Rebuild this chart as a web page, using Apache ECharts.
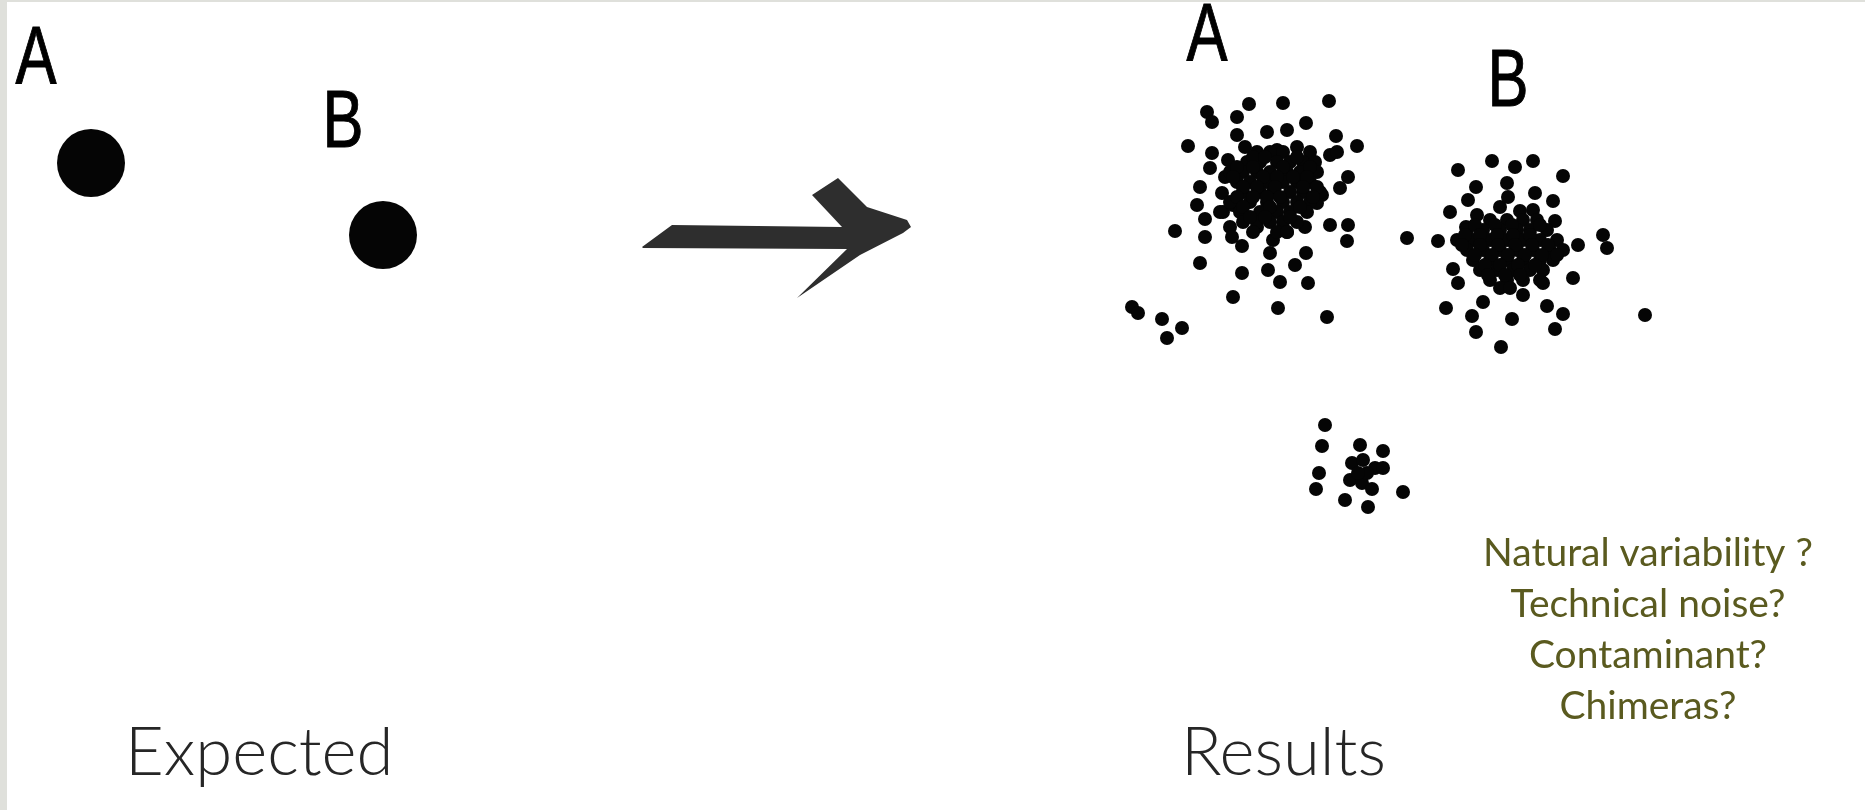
<!DOCTYPE html>
<html>
<head>
<meta charset="utf-8">
<script src="https://cdn.jsdelivr.net/npm/echarts@6/dist/echarts.min.js"></script>
<style>
  html, body { margin: 0; padding: 0; background: #fff; }
  #main { width: 1865px; height: 810px; }
</style>
</head>
<body>
<div id="main"></div>
<script>
const expectedDots = [[91, 163], [383, 235]];

const clusterA = [
  [1249, 104], [1283, 103], [1329, 101], [1207, 112], [1212, 122], [1237, 117], [1306, 123],
  [1267, 132], [1287, 130], [1237, 135], [1336, 136], [1188, 146], [1357, 146], [1245, 147],
  [1297, 147], [1212, 153], [1330, 155], [1337, 152], [1228, 160], [1210, 168], [1263, 157],
  [1277, 150], [1310, 163], [1348, 177], [1340, 188], [1225, 177], [1200, 187], [1222, 193],
  [1197, 205], [1205, 219], [1175, 231], [1205, 237], [1223, 212], [1233, 205], [1230, 227],
  [1232, 237], [1242, 246], [1257, 227], [1273, 240], [1270, 253], [1287, 232], [1305, 227],
  [1330, 225], [1348, 225], [1347, 241], [1306, 253], [1295, 265], [1200, 263], [1242, 273],
  [1268, 270], [1280, 282], [1308, 283], [1233, 297], [1278, 308], [1327, 317], [1322, 195],
  [1317, 203],
  // dense core
  [1257, 152], [1270, 152], [1283, 152], [1310, 152],
  [1247, 162], [1260, 162], [1277, 162], [1290, 162], [1303, 162], [1315, 162],
  [1230, 172], [1243, 172], [1257, 172], [1270, 172], [1287, 172], [1300, 172], [1317, 172],
  [1237, 182], [1250, 182], [1267, 182], [1283, 182], [1297, 182], [1310, 182],
  [1243, 192], [1260, 192], [1273, 192], [1290, 192], [1303, 192], [1320, 192],
  [1230, 202], [1250, 202], [1267, 202], [1283, 202], [1297, 202], [1310, 202],
  [1220, 212], [1240, 212], [1260, 212], [1277, 212], [1290, 212], [1307, 212],
  [1243, 222], [1257, 222], [1270, 222], [1283, 222], [1297, 222],
  [1253, 232], [1277, 232], [1287, 232],
  [1253, 157], [1265, 157], [1297, 157],
  [1237, 167], [1253, 167], [1283, 167], [1310, 167],
  [1233, 177], [1263, 177], [1277, 177], [1293, 177], [1307, 177],
  [1243, 187], [1257, 187], [1275, 187], [1303, 187], [1317, 187],
  [1237, 197], [1253, 197], [1267, 197], [1280, 197], [1313, 197],
  [1243, 207], [1270, 207], [1300, 207],
  [1250, 217], [1265, 217], [1290, 217]
];

const strayDots = [[1132, 307], [1138, 313], [1162, 319], [1182, 328], [1167, 338]];

const clusterB = [
  [1458, 170], [1492, 161], [1515, 167], [1533, 161], [1563, 176], [1476, 187], [1507, 183],
  [1468, 200], [1535, 193], [1553, 201], [1450, 212], [1477, 215], [1500, 207], [1508, 197],
  [1520, 211], [1533, 210], [1555, 221], [1466, 227], [1407, 238], [1438, 241], [1603, 235],
  [1607, 248], [1578, 245], [1573, 278], [1453, 269], [1458, 283], [1446, 308], [1483, 302],
  [1472, 316], [1476, 332], [1512, 319], [1501, 347], [1547, 306], [1563, 314], [1555, 329],
  [1645, 315], [1523, 295], [1543, 283],
  // dense core
  [1490, 220], [1507, 220], [1523, 220], [1537, 220],
  [1467, 230], [1483, 230], [1500, 230], [1517, 230], [1530, 230], [1547, 230],
  [1457, 240], [1473, 240], [1490, 240], [1507, 240], [1523, 240], [1540, 240], [1557, 240],
  [1467, 250], [1483, 250], [1500, 250], [1517, 250], [1533, 250], [1550, 250], [1563, 250],
  [1473, 260], [1490, 260], [1507, 260], [1523, 260], [1540, 260], [1553, 260],
  [1480, 270], [1497, 270], [1513, 270], [1530, 270], [1543, 270],
  [1490, 280], [1507, 280], [1523, 280], [1540, 280],
  [1500, 288], [1510, 288],
  [1475, 225], [1495, 225], [1512, 225], [1540, 225],
  [1465, 235], [1480, 235], [1497, 235], [1513, 235], [1530, 235],
  [1462, 245], [1480, 245], [1498, 245], [1515, 245], [1532, 245], [1548, 245],
  [1475, 255], [1492, 255], [1508, 255], [1525, 255], [1542, 255], [1557, 255],
  [1485, 265], [1500, 265], [1518, 265], [1535, 265],
  [1488, 275], [1505, 275], [1520, 275]
];

const clusterC = [
  [1325, 425], [1322, 446], [1319, 473], [1316, 489], [1360, 445], [1383, 451], [1352, 463],
  [1363, 460], [1375, 468], [1383, 468], [1350, 480], [1362, 483], [1372, 489], [1403, 492],
  [1345, 500], [1368, 507], [1367, 473], [1358, 473]
];

const clusterNames = ['A', 'B'];
const panelTitles = ['Expected', 'Results'];
const questions = ['Natural variability ?', 'Technical noise?', 'Contaminant?', 'Chimeras?'];

const myChart = echarts.init(document.getElementById('main'));

const letterFont = '82px "Liberation Sans", Arial, sans-serif';
const titleFont = '300 67px Lato, "Open Sans", sans-serif';
const questionFont = '39px Lato, "Open Sans", sans-serif';

// 字母用窄体：横向压缩，略加描边
function letter(text, x, y) {
  return {
    type: 'text',
    x: x,
    y: y,
    scaleX: 0.75,
    style: {
      text: text, x: 0, y: 0, font: letterFont, fill: '#000',
      stroke: '#000', lineWidth: 1,
      align: 'center', verticalAlign: 'middle'
    }
  };
}

const graphics = [
  // slide frame strips
  { type: 'rect', shape: { x: 0, y: 0, width: 7, height: 810 }, style: { fill: '#dfe0db' } },
  { type: 'rect', shape: { x: 0, y: 0, width: 1865, height: 2 }, style: { fill: '#dfe0db' } },
  letter(clusterNames[0], 36, 60),
  letter(clusterNames[1], 343, 124),
  letter(clusterNames[0], 1207, 37),
  letter(clusterNames[1], 1508, 83),
  {
    type: 'text',
    style: { text: panelTitles[0], x: 125, y: 753, font: titleFont, fill: '#262626', align: 'left', verticalAlign: 'middle' }
  },
  {
    type: 'text',
    style: { text: panelTitles[1], x: 1181, y: 753, font: titleFont, fill: '#262626', align: 'left', verticalAlign: 'middle' }
  },
  // arrow
  {
    type: 'polygon',
    shape: {
      points: [
        [642, 247], [672, 225], [842, 227], [812, 195], [838, 178], [867, 207],
        [907, 220], [911, 227], [903, 233], [860, 255], [797, 298], [847, 249], [643, 248]
      ]
    },
    style: { fill: '#2e2e2e' }
  }
];

questions.forEach(function (q, i) {
  graphics.push({
    type: 'text',
    style: {
      text: q, x: 1648, y: 553 + i * 51, font: questionFont, fill: '#5a5a1f',
      align: 'center', verticalAlign: 'middle'
    }
  });
});

const dotStyle = { color: '#050505', opacity: 1 };

const option = {
  backgroundColor: '#fff',
  animation: false,
  grid: { left: 0, right: 0, top: 0, bottom: 0 },
  xAxis: { type: 'value', min: 0, max: 1865, show: false },
  yAxis: { type: 'value', min: 0, max: 810, inverse: true, show: false },
  series: [
    { name: 'expected', type: 'scatter', symbolSize: 68, itemStyle: dotStyle, data: expectedDots },
    { name: 'A', type: 'scatter', symbolSize: 14, itemStyle: dotStyle, data: clusterA },
    { name: 'stray', type: 'scatter', symbolSize: 14, itemStyle: dotStyle, data: strayDots },
    { name: 'B', type: 'scatter', symbolSize: 14, itemStyle: dotStyle, data: clusterB },
    { name: 'C', type: 'scatter', symbolSize: 14, itemStyle: dotStyle, data: clusterC }
  ],
  graphic: graphics
};

myChart.setOption(option);

window.addEventListener('resize', () => {
  myChart.resize();
});
</script>
</body>
</html>
